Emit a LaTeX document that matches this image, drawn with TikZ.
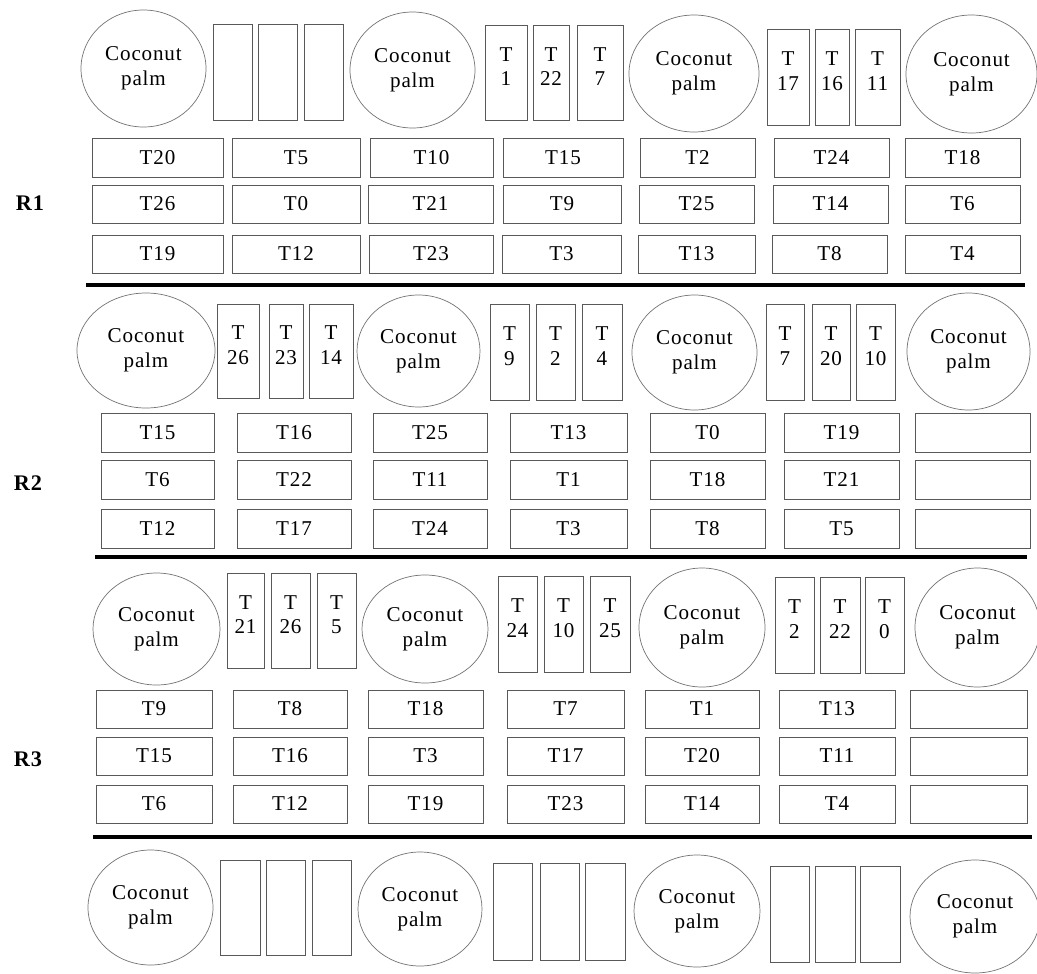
\documentclass[tikz,border=0pt]{standalone}
\usepackage{fontspec}
\setmainfont[LetterSpace=4]{Liberation Serif}
\usetikzlibrary{shapes.geometric}
\tikzset{
  tbox/.style={draw=black!65, line width=0.6pt, rectangle, inner sep=0pt, align=center,
    font=\fontsize{18}{21}\selectfont},
  tallbox/.style={tbox, text depth=10pt},
  palmnode/.style={draw=black!55, line width=0.6pt, ellipse, inner sep=0pt, align=center,
    font=\fontsize{18}{21}\selectfont},
  sepline/.style={line width=3.6pt, black},
  rlabel/.style={font=\fontsize{19}{22}\selectfont\bfseries},
}
\newcommand\bx[6]{\node[tbox, minimum width={0.03cm*(#4-#2)}, minimum height={0.03cm*(#5-#3)}] (#1) at ({(#2+#4)/2},{(#3+#5)/2}) {#6};}
\newcommand\vb[6]{\node[tallbox, minimum width={0.03cm*(#4-#2)}, minimum height={0.03cm*(#5-#3)}] (#1) at ({(#2+#4)/2},{(#3+#5)/2}) {#6};}
\newcommand\palm[5]{\node[palmnode, minimum width={0.03cm*(#4-#2)}, minimum height={0.03cm*(#5-#3)}] (#1) at ({(#2+#4)/2},{(#3+#5)/2}) {Coconut\\palm};}
\begin{document}
\begin{tikzpicture}[x=0.03cm,y=-0.03cm]
\useasboundingbox (0,0) rectangle (1037,973);

% ---------- top row ----------
\palm{p01}{81}{10}{206}{127}
\vb{v01}{213}{24}{252}{120}{}
\vb{v02}{258}{24}{297}{120}{}
\vb{v03}{304}{24}{343}{120}{}
\palm{p02}{350}{12}{475}{128}
\vb{v04}{485}{25}{527}{120}{T\\1}
\vb{v05}{533}{25}{569}{120}{T\\22}
\vb{v06}{577}{25}{623}{120}{T\\7}
\palm{p03}{629}{15}{759}{132}
\vb{v07}{767}{29}{809}{125}{T\\17}
\vb{v08}{815}{29}{849}{125}{T\\16}
\vb{v09}{855}{29}{900}{125}{T\\11}
\palm{p04}{906}{15}{1037}{133}

% ---------- R1 ----------
\node[rlabel] (R1) at (30,203) {R1};
\bx{a1}{92}{138}{223}{177}{T20}
\bx{a2}{232}{138}{360}{177}{T5}
\bx{a3}{370}{138}{493}{177}{T10}
\bx{a4}{503}{138}{623}{177}{T15}
\bx{a5}{640}{138}{755}{177}{T2}
\bx{a6}{774}{138}{889}{177}{T24}
\bx{a7}{905}{138}{1020}{177}{T18}
\bx{b1}{92}{185}{223}{223}{T26}
\bx{b2}{232}{185}{360}{223}{T0}
\bx{b3}{368}{185}{493}{223}{T21}
\bx{b4}{503}{185}{621}{223}{T9}
\bx{b5}{639}{185}{754}{223}{T25}
\bx{b6}{773}{185}{888}{223}{T14}
\bx{b7}{905}{185}{1020}{223}{T6}
\bx{c1}{92}{235}{223}{273}{T19}
\bx{c2}{232}{235}{360}{273}{T12}
\bx{c3}{369}{235}{493}{273}{T23}
\bx{c4}{502}{235}{621}{273}{T3}
\bx{c5}{638}{235}{755}{273}{T13}
\bx{c6}{772}{235}{887}{273}{T8}
\bx{c7}{905}{235}{1020}{273}{T4}
\coordinate (l1a) at (86,285);
\coordinate (l1b) at (1025,285);
\draw[sepline] (l1a) -- (l1b);

% ---------- R2 top ----------
\palm{p11}{77}{293}{215}{408}
\vb{v11}{217}{304}{259}{398}{T\\26}
\vb{v12}{269}{304}{303}{398}{T\\23}
\vb{v13}{309}{304}{353}{398}{T\\14}
\palm{p12}{357}{295}{480}{407}
\vb{v14}{490}{304}{529}{400}{T\\9}
\vb{v15}{536}{304}{575}{400}{T\\2}
\vb{v16}{582}{304}{622}{400}{T\\4}
\palm{p13}{632}{295}{757}{410}
\vb{v17}{766}{304}{804}{400}{T\\7}
\vb{v18}{812}{304}{850}{400}{T\\20}
\vb{v19}{856}{304}{895}{400}{T\\10}
\palm{p14}{907}{293}{1030}{410}

% ---------- R2 ----------
\node[rlabel] (R2) at (28,483) {R2};
\bx{d1}{101}{413}{214}{452}{T15}
\bx{d2}{237}{413}{351}{452}{T16}
\bx{d3}{373}{413}{487}{452}{T25}
\bx{d4}{510}{413}{627}{452}{T13}
\bx{d5}{650}{413}{765}{452}{T0}
\bx{d6}{784}{413}{899}{452}{T19}
\bx{d7}{915}{413}{1030}{452}{}
\bx{e1}{101}{460}{214}{499}{T6}
\bx{e2}{237}{460}{351}{499}{T22}
\bx{e3}{373}{460}{487}{499}{T11}
\bx{e4}{510}{460}{627}{499}{T1}
\bx{e5}{650}{460}{765}{499}{T18}
\bx{e6}{784}{460}{899}{499}{T21}
\bx{e7}{915}{460}{1030}{499}{}
\bx{f1}{101}{509}{214}{548}{T12}
\bx{f2}{237}{509}{351}{548}{T17}
\bx{f3}{373}{509}{487}{548}{T24}
\bx{f4}{510}{509}{627}{548}{T3}
\bx{f5}{650}{509}{765}{548}{T8}
\bx{f6}{784}{509}{899}{548}{T5}
\bx{f7}{915}{509}{1030}{548}{}
\coordinate (l2a) at (95,557);
\coordinate (l2b) at (1027,557);
\draw[sepline] (l2a) -- (l2b);

% ---------- R3 top ----------
\palm{p21}{93}{573}{220}{685}
\vb{v21}{227}{573}{264}{668}{T\\21}
\vb{v22}{271}{573}{310}{668}{T\\26}
\vb{v23}{317}{573}{356}{668}{T\\5}
\palm{p22}{362}{575}{488}{683}
\vb{v24}{498}{576}{537}{672}{T\\24}
\vb{v25}{544}{576}{583}{672}{T\\10}
\vb{v26}{590}{576}{630}{672}{T\\25}
\palm{p23}{639}{568}{765}{687}
\vb{v27}{775}{577}{814}{673}{T\\2}
\vb{v28}{820}{577}{860}{673}{T\\22}
\vb{v29}{865}{577}{904}{673}{T\\0}
\palm{p24}{915}{568}{1040}{687}

% ---------- R3 ----------
\node[rlabel] (R3) at (28,759) {R3};
\bx{g1}{96}{690}{212}{728}{T9}
\bx{g2}{233}{690}{347}{728}{T8}
\bx{g3}{368}{690}{483}{728}{T18}
\bx{g4}{507}{690}{624}{728}{T7}
\bx{g5}{645}{690}{759}{728}{T1}
\bx{g6}{779}{690}{895}{728}{T13}
\bx{g7}{910}{690}{1027}{728}{}
\bx{h1}{96}{737}{212}{775}{T15}
\bx{h2}{233}{737}{347}{775}{T16}
\bx{h3}{368}{737}{483}{775}{T3}
\bx{h4}{507}{737}{624}{775}{T17}
\bx{h5}{645}{737}{759}{775}{T20}
\bx{h6}{779}{737}{895}{775}{T11}
\bx{h7}{910}{737}{1027}{775}{}
\bx{i1}{96}{785}{212}{823}{T6}
\bx{i2}{233}{785}{347}{823}{T12}
\bx{i3}{368}{785}{483}{823}{T19}
\bx{i4}{507}{785}{624}{823}{T23}
\bx{i5}{645}{785}{759}{823}{T14}
\bx{i6}{779}{785}{895}{823}{T4}
\bx{i7}{910}{785}{1027}{823}{}
\coordinate (l3a) at (93,837);
\coordinate (l3b) at (1032,837);
\draw[sepline] (l3a) -- (l3b);

% ---------- bottom row ----------
\palm{p31}{88}{850}{213}{965}
\vb{v31}{220}{860}{260}{955}{}
\vb{v32}{266}{860}{305}{955}{}
\vb{v33}{312}{860}{351}{955}{}
\palm{p32}{358}{852}{482}{966}
\vb{v34}{493}{863}{532}{960}{}
\vb{v35}{540}{863}{579}{960}{}
\vb{v36}{585}{863}{625}{960}{}
\palm{p33}{634}{855}{760}{967}
\vb{v37}{770}{866}{809}{962}{}
\vb{v38}{815}{866}{855}{962}{}
\vb{v39}{860}{866}{900}{962}{}
\palm{p34}{910}{860}{1040}{973}
\end{tikzpicture}
\end{document}
